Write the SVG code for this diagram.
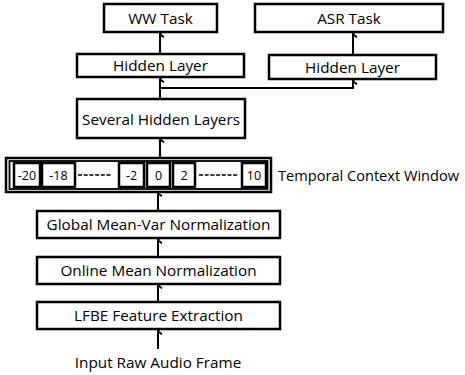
<svg xmlns="http://www.w3.org/2000/svg" width="465" height="375" viewBox="0 0 465 375">
<defs>
<marker id="ah" markerWidth="8" markerHeight="8" refX="4" refY="1.5" orient="auto-start-reverse" markerUnits="userSpaceOnUse" viewBox="0 0 8 8">
<path d="M0.8,5.5 L4,1 L7.2,5.5" fill="none" stroke="#000" stroke-width="1.8"/>
</marker>
<style>
.b{fill:#fff;stroke:#000;stroke-width:2.5}
.c{fill:#fff;stroke:#000;stroke-width:1.8}
.t{font-family:"Open Sans","Liberation Sans",sans-serif;font-size:15.3px;fill:#000;text-anchor:middle}
.s{font-family:"Open Sans","Liberation Sans",sans-serif;font-size:12.5px;fill:#000;text-anchor:middle}
.l{fill:none;stroke:#000;stroke-width:2}
.d{fill:none;stroke:#000;stroke-width:1.6;stroke-dasharray:4,1.7}
</style>
</defs>
<g id="connectors">
<line class="l" x1="160" y1="53" x2="160" y2="34" marker-end="url(#ah)"/>
<line class="l" x1="353" y1="54" x2="353" y2="34" marker-end="url(#ah)"/>
<line class="l" x1="160" y1="99" x2="160" y2="79" marker-end="url(#ah)"/>
<polyline class="l" points="160,88 353,88 353,81" marker-end="url(#ah)"/>
<line class="l" x1="160" y1="157" x2="160" y2="139" marker-end="url(#ah)"/>
<line class="l" x1="158" y1="210" x2="158" y2="193" marker-end="url(#ah)"/>
<line class="l" x1="158" y1="256" x2="158" y2="240" marker-end="url(#ah)"/>
<line class="l" x1="158" y1="301" x2="158" y2="285" marker-end="url(#ah)"/>
<line class="l" x1="158" y1="349" x2="158" y2="331" marker-end="url(#ah)"/>
</g>
<g id="ww-task"><rect class="b" x="104" y="4" width="113" height="28"/><text class="t" x="160.5" y="23.5">WW Task</text></g>
<g id="asr-task"><rect class="b" x="255" y="4" width="188" height="28"/><text class="t" x="349" y="23.5">ASR Task</text></g>
<g id="hidden-left"><rect class="b" x="77" y="54" width="167" height="23"/><text class="t" x="160.5" y="71">Hidden Layer</text></g>
<g id="hidden-right"><rect class="b" x="269" y="55" width="167" height="24"/><text class="t" x="352.5" y="72.5">Hidden Layer</text></g>
<g id="several"><rect class="b" x="77" y="99" width="168" height="39"/><text class="t" x="161" y="124.5">Several Hidden Layers</text></g>
<g id="window">
<rect class="b" x="6" y="158" width="265" height="34"/>
<rect class="c" x="9.5" y="161" width="258" height="28"/>
<rect class="b" x="14" y="163" width="26" height="24"/><text class="s" x="27" y="179.5">-20</text>
<rect class="b" x="42" y="163" width="33" height="24"/><text class="s" x="58.5" y="179.5">-18</text>
<line class="d" x1="78" y1="175" x2="112" y2="175"/>
<rect class="b" x="119" y="163" width="25" height="24"/><text class="s" x="131.5" y="179.5">-2</text>
<rect class="b" x="147" y="163" width="23" height="24"/><text class="s" x="158.5" y="179.5">0</text>
<rect class="b" x="173" y="163" width="22" height="24"/><text class="s" x="184" y="179.5">2</text>
<line class="d" x1="199" y1="175" x2="238" y2="175"/>
<rect class="b" x="242" y="163" width="24" height="24"/><text class="s" x="254" y="179.5">10</text>
<text class="t" x="278" y="181" style="text-anchor:start;font-size:14.6px">Temporal Context Window</text>
</g>
<g id="global"><rect class="b" x="37" y="211" width="243" height="27"/><text class="t" x="158.5" y="230">Global Mean-Var Normalization</text></g>
<g id="online"><rect class="b" x="37" y="257" width="243" height="27"/><text class="t" x="158.5" y="276">Online Mean Normalization</text></g>
<g id="lfbe"><rect class="b" x="37" y="302" width="243" height="27"/><text class="t" x="158.5" y="321">LFBE Feature Extraction</text></g>
<g id="input"><text class="t" x="158" y="368">Input Raw Audio Frame</text></g>
</svg>
